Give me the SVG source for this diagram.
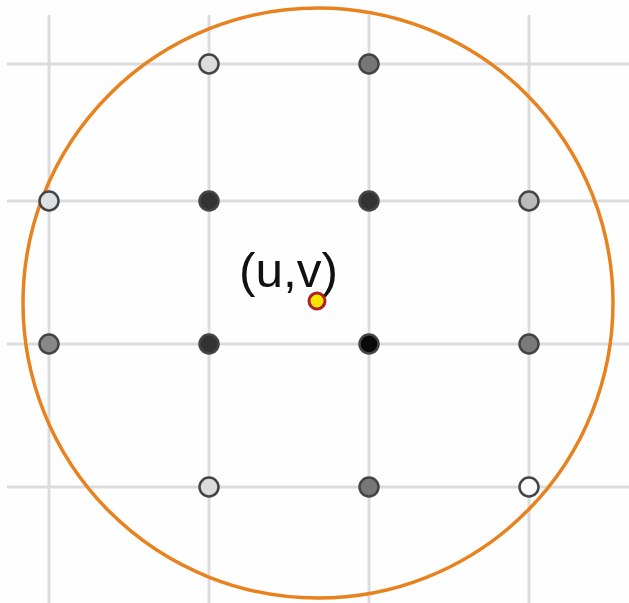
<svg xmlns="http://www.w3.org/2000/svg" width="629" height="603" viewBox="0 0 629 603">
<style>
.grid{stroke:#dcdcdc;stroke-width:3;fill:none}
.dot{stroke:#444;stroke-width:2.5}
.ring{stroke:#e8821e;stroke-width:3.5;fill:none}
.lbl{font-family:"Liberation Sans",Arial,sans-serif;font-size:48px;fill:#111}
</style>
<rect width="629" height="603" fill="#fefefe"/>
<g id="grid">
<line class="grid" x1="49" y1="15" x2="49" y2="603"/>
<line class="grid" x1="209" y1="15" x2="209" y2="603"/>
<line class="grid" x1="369" y1="15" x2="369" y2="603"/>
<line class="grid" x1="529" y1="15" x2="529" y2="603"/>
<line class="grid" x1="7" y1="64" x2="629" y2="64"/>
<line class="grid" x1="7" y1="201" x2="629" y2="201"/>
<line class="grid" x1="7" y1="344" x2="629" y2="344"/>
<line class="grid" x1="7" y1="487" x2="629" y2="487"/>
</g>
<g id="circle"><circle class="ring" cx="318" cy="303" r="295"/></g>
<g id="dots">
<circle id="d1" class="dot" cx="209" cy="64" r="9.5" fill="#dcdcdc"/>
<circle id="d2" class="dot" cx="369" cy="64" r="9.5" fill="#777"/>
<circle id="d3" class="dot" cx="49" cy="201" r="9.5" fill="#dde0e2"/>
<circle id="d4" class="dot" cx="209" cy="201" r="9.5" fill="#333"/>
<circle id="d5" class="dot" cx="369" cy="201" r="9.5" fill="#333"/>
<circle id="d6" class="dot" cx="529" cy="201" r="9.5" fill="#bbb"/>
<circle id="d7" class="dot" cx="49" cy="344" r="9.5" fill="#888"/>
<circle id="d8" class="dot" cx="209" cy="344" r="9.5" fill="#333"/>
<circle id="d9" class="dot" cx="369" cy="344" r="9.5" fill="#0a0a0a" stroke="#111"/>
<circle id="d10" class="dot" cx="529" cy="344" r="9.5" fill="#7a7a7a"/>
<circle id="d11" class="dot" cx="209" cy="487" r="9.5" fill="#dcdcdc"/>
<circle id="d12" class="dot" cx="369" cy="487" r="9.5" fill="#777"/>
<circle id="d13" class="dot" cx="529" cy="487" r="9.5" fill="#fafafa"/>
</g>
<g id="uv">
<text class="lbl" x="239" y="287" textLength="99" lengthAdjust="spacingAndGlyphs">(u,v)</text>
<circle cx="317" cy="301" r="8" fill="#f5e600" stroke="#b0202a" stroke-width="3"/>
</g>
</svg>
